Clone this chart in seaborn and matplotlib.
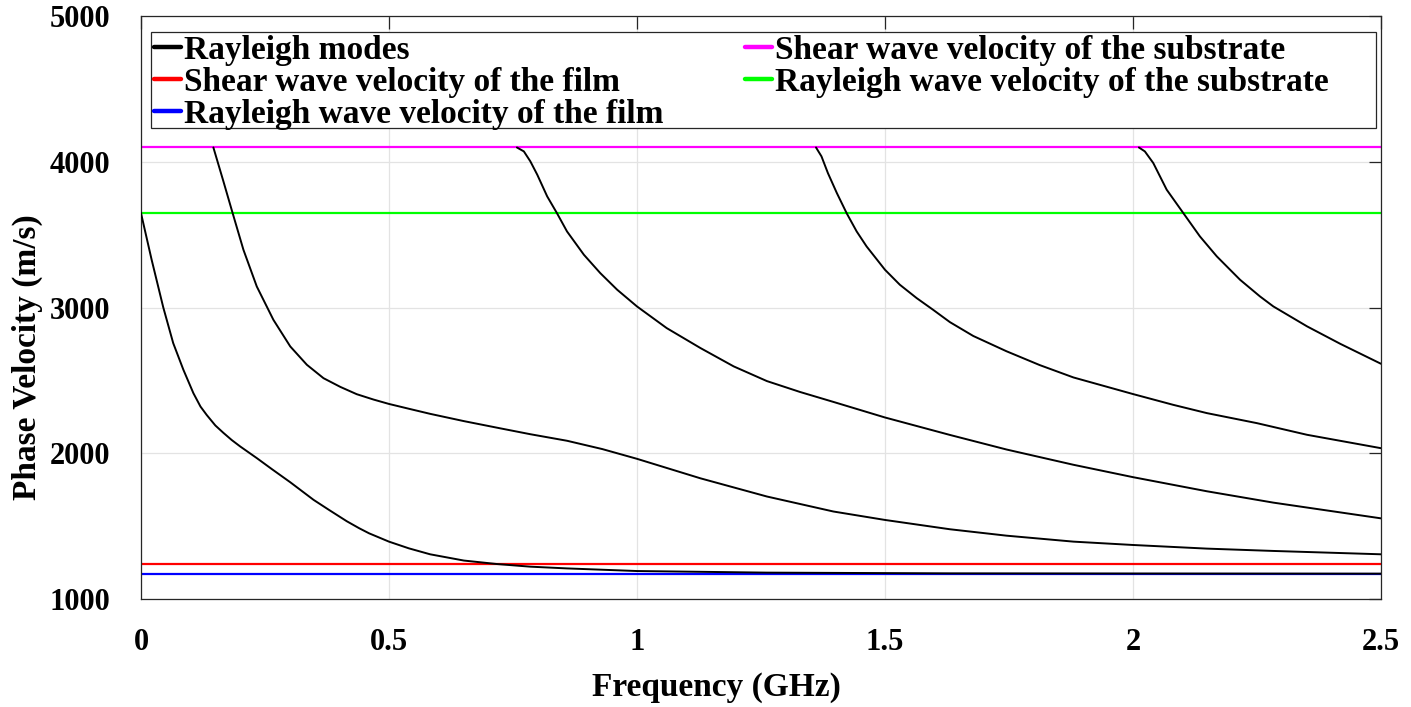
import matplotlib
matplotlib.use("Agg")
import matplotlib.pyplot as plt
from matplotlib.lines import Line2D
from matplotlib.patches import Rectangle
import pandas as pd
import seaborn as sns

# Dispersion branches of the layered structure: frequency (GHz) -> phase velocity (m/s)
mode0_freq = [0.0, 0.0215, 0.045, 0.065, 0.0855, 0.1057, 0.12, 0.1326, 0.15, 0.166,
              0.183, 0.2, 0.2335, 0.264, 0.301, 0.348, 0.38, 0.415, 0.44, 0.46,
              0.5, 0.54, 0.583, 0.651, 0.718, 0.785, 0.859, 1.0, 1.262, 1.63,
              2.0, 2.5]
mode0_vel = [3650, 3329, 3001, 2756, 2573, 2412, 2320, 2262, 2190, 2140,
             2090, 2046, 1966, 1890, 1800, 1679, 1608, 1532, 1484, 1449,
             1392, 1346, 1305, 1262, 1238, 1220, 1208, 1190, 1179, 1174,
             1173, 1172]

mode1_freq = [0.146, 0.166, 0.185, 0.2066, 0.2335, 0.267, 0.301, 0.3345, 0.368, 0.402,
              0.435, 0.469, 0.5, 0.54, 0.583, 0.651, 0.725, 0.785, 0.859, 0.93,
              1.0, 1.128, 1.262, 1.396, 1.5, 1.631, 1.745, 1.88, 2.0, 2.149,
              2.283, 2.5]
mode1_vel = [4100, 3870, 3647, 3397, 3145, 2916, 2733, 2607, 2515, 2455,
             2405, 2368, 2338, 2305, 2270, 2220, 2170, 2130, 2085, 2028,
             1961, 1827, 1702, 1599, 1541, 1477, 1433, 1392, 1369, 1344,
             1328, 1305]

mode2_freq = [0.758, 0.772, 0.785, 0.799, 0.819, 0.839, 0.859, 0.893, 0.926, 0.96,
              1.0, 1.06, 1.128, 1.195, 1.262, 1.329, 1.396, 1.5, 1.631, 1.745,
              1.88, 2.0, 2.149, 2.283, 2.5]
mode2_vel = [4100, 4073, 4005, 3913, 3764, 3647, 3523, 3363, 3237, 3123,
             3008, 2859, 2722, 2596, 2495, 2420, 2352, 2245, 2125, 2025,
             1920, 1835, 1738, 1660, 1552]

mode3_freq = [1.361, 1.372, 1.385, 1.403, 1.423, 1.443, 1.463, 1.5, 1.53, 1.564,
              1.597, 1.631, 1.678, 1.745, 1.812, 1.88, 2.0, 2.081, 2.149, 2.25,
              2.351, 2.5]
mode3_vel = [4100, 4039, 3924, 3787, 3647, 3523, 3420, 3260, 3157, 3065,
             2985, 2900, 2805, 2700, 2605, 2520, 2406, 2332, 2275, 2206,
             2126, 2034]

mode4_freq = [2.012, 2.024, 2.041, 2.068, 2.102, 2.135, 2.169, 2.216, 2.256, 2.283,
              2.351, 2.418, 2.5]
mode4_vel = [4100, 4073, 3993, 3810, 3647, 3489, 3352, 3191, 3077, 3008,
             2871, 2751, 2614]

# Bulk / surface wave reference velocities (m/s)
v_shear_substrate = 4100
v_rayleigh_substrate = 3650
v_shear_film = 1237
v_rayleigh_film = 1172

x_ticks = [0, 0.5, 1, 1.5, 2, 2.5]
x_tick_labels = ["0", "0.5", "1", "1.5", "2", "2.5"]
y_ticks = [1000, 2000, 3000, 4000, 5000]
y_tick_labels = ["1000", "2000", "3000", "4000", "5000"]

legend_labels = ["Rayleigh modes",
                 "Shear wave velocity of the film",
                 "Rayleigh wave velocity of the film",
                 "Shear wave velocity of the substrate",
                 "Rayleigh wave velocity of the substrate"]

sns.set_style("white")
plt.rcParams["font.family"] = ["Liberation Serif", "DejaVu Serif"]
plt.rcParams["font.weight"] = "bold"
plt.rcParams["text.color"] = "black"
plt.rcParams["axes.labelcolor"] = "black"
plt.rcParams["xtick.labelcolor"] = "black"
plt.rcParams["ytick.labelcolor"] = "black"

axis_gray = (0.15, 0.15, 0.15)

fig = plt.figure(figsize=(14.11, 7.07), dpi=100)
ax = fig.add_axes([0.0999, 0.1532, 0.8788, 0.8235])

branches = [(mode0_freq, mode0_vel), (mode1_freq, mode1_vel), (mode2_freq, mode2_vel),
            (mode3_freq, mode3_vel), (mode4_freq, mode4_vel)]
df = pd.concat([pd.DataFrame({"freq": f, "vel": v, "mode": i})
                for i, (f, v) in enumerate(branches)], ignore_index=True)

sns.lineplot(data=df, x="freq", y="vel", units="mode", estimator=None, sort=False,
             color="black", linewidth=1.4, legend=False, ax=ax, zorder=3)

ref_lines = [(v_shear_film, "#ff0000"), (v_rayleigh_film, "#0000ff"),
             (v_shear_substrate, "#ff00ff"), (v_rayleigh_substrate, "#00ff00")]
for val, col in ref_lines:
    ax.axhline(val, color=col, linewidth=1.6, zorder=2)

ax.set_xlim(0, 2.5)
ax.set_ylim(1000, 5000)
ax.set_xticks(x_ticks)
ax.set_xticklabels(x_tick_labels)
ax.set_yticks(y_ticks)
ax.set_yticklabels(y_tick_labels)

ax.grid(True, color="#e3e3e3", linewidth=0.9)
ax.set_axisbelow(True)
for s in ax.spines.values():
    s.set_color(axis_gray)
    s.set_linewidth(0.9)

ax.tick_params(axis="both", direction="in", length=9, width=0.9, color=axis_gray,
               top=True, right=True, labelsize=22, labelcolor="black")
ax.tick_params(axis="x", pad=21)
ax.tick_params(axis="y", pad=22)
for lab in ax.get_xticklabels() + ax.get_yticklabels():
    lab.set_fontweight("bold")
    lab.set_color("black")

ax.set_xlabel("Frequency (GHz)", fontsize=24, fontweight="bold", va="center", color="black")
ax.xaxis.set_label_coords(0.464, -0.1517)
ax.set_ylabel("Phase Velocity (m/s)", fontsize=24, fontweight="bold", va="center",
              ha="center", color="black")
ax.yaxis.set_label_coords(-0.0919, 0.415)

# Legend frame spanning the top of the axes
ax.add_patch(Rectangle((0.0078, 0.809), 0.9879, 0.1639, transform=ax.transAxes,
                       facecolor="white", edgecolor=axis_gray, linewidth=0.9, zorder=4))

handle_colors = ["black", "#ff0000", "#0000ff", "#ff00ff", "#00ff00"]
handles = [Line2D([], [], color=c, linewidth=3.2) for c in handle_colors]
leg_kw = dict(loc="upper left", frameon=False, fontsize=24, borderpad=0,
              handlelength=0.81, handletextpad=0.08, labelspacing=0.03,
              borderaxespad=0, labelcolor="black")
leg1 = ax.legend(handles[:3], legend_labels[:3], bbox_to_anchor=(0.0105, 0.969), **leg_kw)
for t in leg1.get_texts():
    t.set_fontweight("bold")
leg1.set_zorder(5)
ax.add_artist(leg1)
leg2 = ax.legend(handles[3:], legend_labels[3:], bbox_to_anchor=(0.4871, 0.969), **leg_kw)
for t in leg2.get_texts():
    t.set_fontweight("bold")
leg2.set_zorder(5)

fig.savefig("out.png", dpi=100, facecolor="white")
